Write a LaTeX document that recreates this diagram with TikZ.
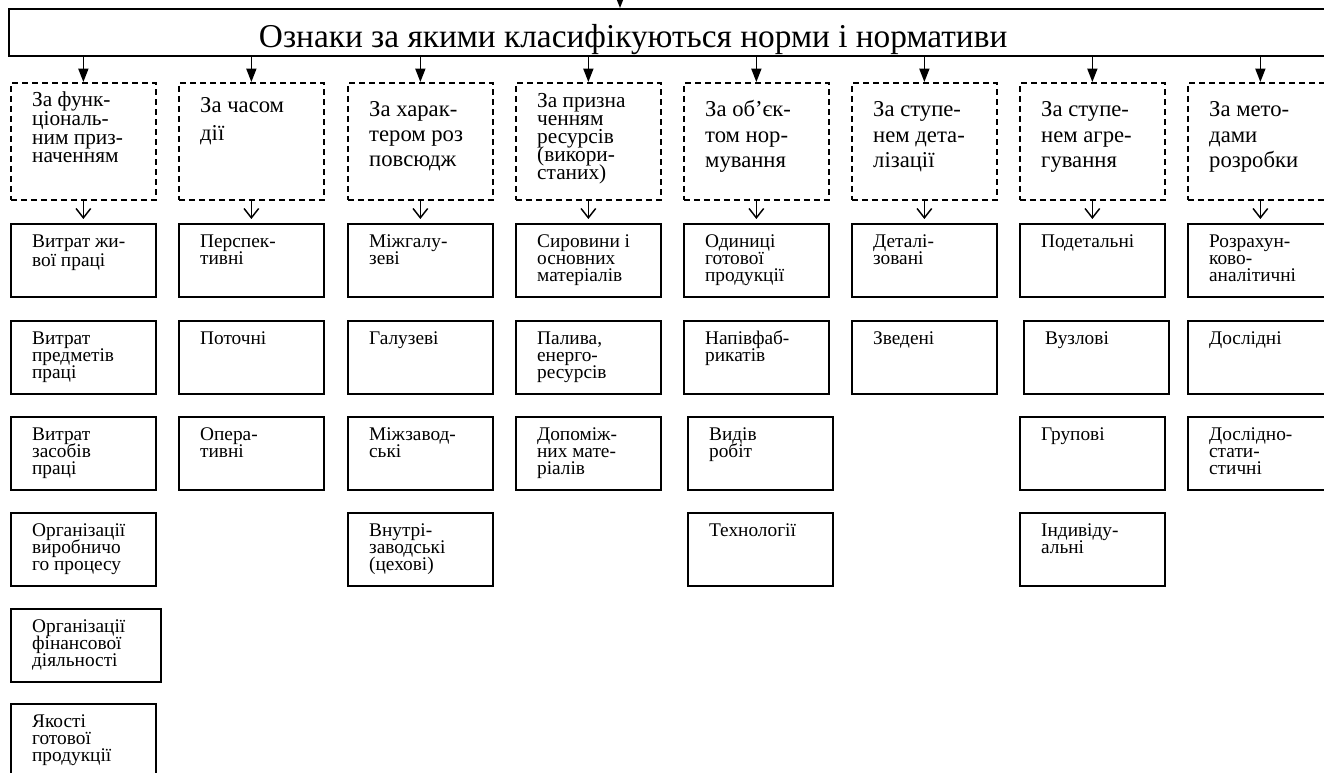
\documentclass[tikz,border=0pt]{standalone}
\usepackage{fontspec}
\setmainfont{Liberation Serif}
\usetikzlibrary{arrows.meta}

% text in a box: width, height, first baseline, line step, text
\newcommand{\ramtext}[5]{\parbox[t][#2][t]{#1}{\baselineskip=#4\relax\lineskiplimit=-\maxdimen\raggedright\leftskip=16pt\rule{0pt}{#3}#5\par}}
\newcommand{\vyd}[2][12.5pt]{\ramtext{108.75pt}{54.75pt}{18pt}{#1}{#2}}
\newcommand{\kryt}[3][19pt]{\ramtext{108.75pt}{87.75pt}{#2}{#1}{#3}}

\begin{document}
\begin{tikzpicture}[x=0.75pt,y=0.75pt,yscale=-1,
  strilka/.style={-{Triangle[length=10pt,width=7.5pt]},line width=1.1pt},
  vstrilka/.style={-{Straight Barb[length=7pt,width=11pt]},line width=1.1pt,shorten >=3pt},
  kryterij/.style={draw,dash pattern=on 4.5pt off 3pt,line width=1.3pt,inner sep=0pt,anchor=north west,font=\fontsize{17}{19}\selectfont},
  vyd/.style={draw,line width=1.2pt,inner sep=0pt,anchor=north west,font=\fontsize{14.5}{12.5}\selectfont}]
\useasboundingbox (0,0) rectangle (1324,773);
\clip (0,0) rectangle (1324,773);

%Top box
\node [draw,line width=1.5pt,inner sep=0pt,anchor=north west,text height=29.25pt,text depth=6pt,font=\fontsize{25}{27}\selectfont] (oznaky) at (8,8) {\makebox[999pt][l]{\hspace*{187.5pt}Ознаки за якими класифікуються норми і нормативи}};
\coordinate (vhid) at (620,0);
\draw [strilka] (vhid) -- (vhid |- oznaky.north);

%Criteria (dashed)
\node [kryterij,font=\fontsize{16}{14}\selectfont] (k1) at (10,82) {\kryt[14pt]{18pt}{За функ-\\ціональ-\\ним приз-\\наченням}};
\node [kryterij] (k2) at (178,82) {\kryt[21pt]{22.5pt}{За часом\\дії}};
\node [kryterij] (k3) at (347,82) {\kryt{25pt}{За харак-\\тером роз\\повсюдж}};
\node [kryterij,font=\fontsize{16}{13.5}\selectfont] (k4) at (515,82) {\kryt[13.5pt]{18.75pt}{За призна\\ченням\\ресурсів\\(викори-\\станих)}};
\node [kryterij] (k5) at (683,82) {\kryt{25.5pt}{За об’єк-\\том нор-\\мування}};
\node [kryterij] (k6) at (851,82) {\kryt{25.5pt}{За ступе-\\нем дета-\\лізації}};
\node [kryterij] (k7) at (1019,82) {\kryt{25.5pt}{За ступе-\\нем агре-\\гування}};
\node [kryterij] (k8) at (1187,82) {\kryt{25.5pt}{За мето-\\дами\\розробки}};

%Column 1
\node [vyd] (v11) at (10,223) {\vyd[14pt]{Витрат жи-\\вої праці}};
\node [vyd] (v12) at (10,320) {\vyd{Витрат\\предметів\\праці}};
\node [vyd] (v13) at (10,416) {\vyd{Витрат\\засобів\\праці}};
\node [vyd] (v14) at (10,512) {\vyd{Організації\\виробничо\\го процесу}};
\node [vyd] (v15) at (10,608) {\ramtext{112.5pt}{54.75pt}{18pt}{12.5pt}{Організації\\фінансової\\діяльності}};
\node [vyd] (v16) at (10,703) {\vyd{Якості\\готової\\продукції}};
%Column 2
\node [vyd] (v21) at (178,223) {\vyd{Перспек-\\тивні}};
\node [vyd] (v22) at (178,320) {\vyd{Поточні}};
\node [vyd] (v23) at (178,416) {\vyd{Опера-\\тивні}};
%Column 3
\node [vyd] (v31) at (347,223) {\vyd{Міжгалу-\\зеві}};
\node [vyd] (v32) at (347,320) {\vyd{Галузеві}};
\node [vyd] (v33) at (347,416) {\vyd{Міжзавод-\\ські}};
\node [vyd] (v34) at (347,512) {\vyd{Внутрі-\\заводські\\(цехові)}};
%Column 4
\node [vyd] (v41) at (515,223) {\vyd{Сировини і\\основних\\матеріалів}};
\node [vyd] (v42) at (515,320) {\vyd{Палива,\\енерго-\\ресурсів}};
\node [vyd] (v43) at (515,416) {\vyd{Допоміж-\\них мате-\\ріалів}};
%Column 5
\node [vyd] (v51) at (683,223) {\vyd{Одиниці\\готової\\продукції}};
\node [vyd] (v52) at (683,320) {\vyd{Напівфаб-\\рикатів}};
\node [vyd] (v53) at (687,416) {\vyd{Видів\\робіт}};
\node [vyd] (v54) at (687,512) {\vyd{Технології}};
%Column 6
\node [vyd] (v61) at (851,223) {\vyd{Деталі-\\зовані}};
\node [vyd] (v62) at (851,320) {\vyd{Зведені}};
%Column 7
\node [vyd] (v71) at (1019,223) {\vyd{Подетальні}};
\node [vyd] (v72) at (1023,320) {\vyd{Вузлові}};
\node [vyd] (v73) at (1019,416) {\vyd{Групові}};
\node [vyd] (v74) at (1019,512) {\vyd{Індивіду-\\альні}};
%Column 8
\node [vyd] (v81) at (1187,223) {\vyd{Розрахун-\\ково-\\аналітичні}};
\node [vyd] (v82) at (1187,320) {\vyd{Дослідні}};
\node [vyd] (v83) at (1187,416) {\vyd{Дослідно-\\стати-\\стичні}};

%Arrows
\foreach \i in {1,...,8}
{
\draw [strilka] (k\i.north |- oznaky.south) -- (k\i.north);
\draw [vstrilka] (k\i.south) -- (k\i.south |- v\i1.north);
}

\end{tikzpicture}
\end{document}
